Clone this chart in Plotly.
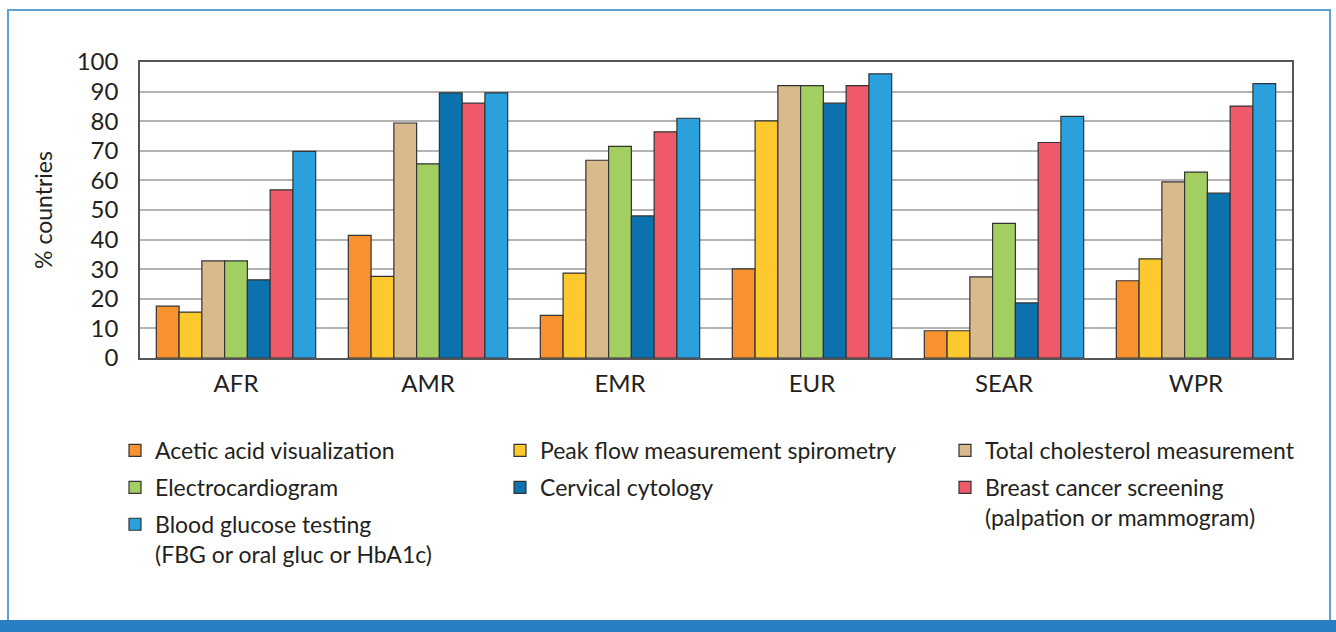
import plotly.graph_objects as go

regions = ["AFR", "AMR", "EMR", "EUR", "SEAR", "WPR"]

acetic = [17.5, 41.4, 14.4, 30.1, 9.2, 26.1]
peak_flow = [15.5, 27.6, 28.7, 80.1, 9.2, 33.5]
cholesterol = [32.8, 79.4, 66.8, 92.0, 27.4, 59.5]
ecg = [32.8, 65.6, 71.5, 92.0, 45.5, 62.8]
cervical = [26.4, 89.6, 48.0, 86.1, 18.6, 55.7]
breast = [56.8, 86.1, 76.4, 92.0, 72.8, 85.1]
glucose = [69.8, 89.6, 81.0, 96.0, 81.6, 92.7]

y_ticks = [0, 10, 20, 30, 40, 50, 60, 70, 80, 90, 100]

W, H = 1336, 632
L, R, T, B = 140, 44, 62, 274
PW, PH = W - L - R, H - T - B


def px(x):
    return (x - L) / PW


def py(y):
    return (H - B - y) / PH


series = [
    ("Acetic acid visualization", acetic, "#F7922F", "legend"),
    ("Peak flow measurement spirometry", peak_flow, "#FDC92F", "legend2"),
    ("Total cholesterol measurement", cholesterol, "#D9BA8C", "legend3"),
    ("Electrocardiogram", ecg, "#A3CF62", "legend"),
    ("Cervical cytology", cervical, "#0B72AD", "legend2"),
    ("Breast cancer screening<br>(palpation or mammogram)", breast, "#EF5A69", "legend3"),
    ("Blood glucose testing<br>(FBG or oral gluc or HbA1c)", glucose, "#2AA1DC", "legend"),
]

fig = go.Figure()
for name, vals, col, leg in series:
    fig.add_trace(go.Bar(
        x=regions, y=vals, name=name, legend=leg, legendgroup=name,
        marker=dict(color=col, line=dict(color="#333333", width=1.2)),
    ))

font = "Lato, 'Noto Sans', sans-serif"
txt = "#231f20"

leg_common = dict(
    orientation="v", yanchor="top", bgcolor="rgba(0,0,0,0)",
    font=dict(family=font, size=23, color=txt),
    valign="top", tracegroupgap=4, itemclick=False,
)

fig.update_layout(
    width=W, height=H,
    margin=dict(l=L, r=R, t=T, b=B),
    paper_bgcolor="white", plot_bgcolor="white",
    barmode="group", bargap=0.17, bargroupgap=0,
    font=dict(family=font, size=23, color=txt),
    legend=dict(x=px(115), y=py(429), **leg_common),
    legend2=dict(x=px(500), y=py(429), **leg_common),
    legend3=dict(x=px(945), y=py(429), **leg_common),
    shapes=[
        dict(type="rect", xref="paper", yref="paper",
             x0=px(8), x1=px(1330), y0=py(622), y1=py(10),
             line=dict(color="#5ba3d9", width=2), layer="below"),
        dict(type="rect", xref="paper", yref="paper",
             x0=px(0), x1=px(1336), y0=py(632), y1=py(620),
             line=dict(width=0), fillcolor="#2a7fc4"),
    ],
)

fig.update_xaxes(
    showline=True, mirror=True, linecolor="#555555", linewidth=1.5,
    ticks="", tickfont=dict(size=24), ticklabelstandoff=3,
)
fig.update_yaxes(
    range=[0, 100], tickvals=y_ticks, showline=True, mirror=True,
    linecolor="#555555", linewidth=1.5,
    showgrid=True, gridcolor="#b3b3b3", gridwidth=1.5,
    tickfont=dict(size=24), ticklabelstandoff=15,
    title=dict(text="% countries", font=dict(size=23), standoff=18),
)

fig.write_html("out.html", config={"displayModeBar": False},
               post_script="document.body.style.margin='0';")
